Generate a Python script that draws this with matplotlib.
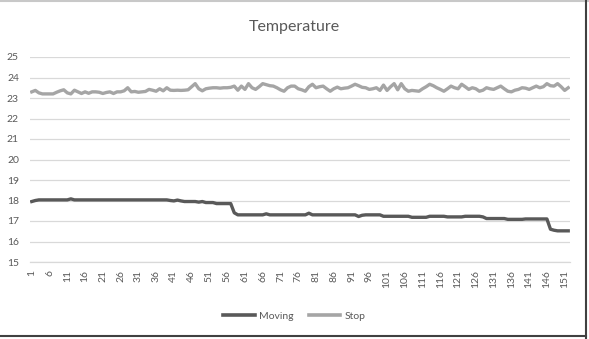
import matplotlib
matplotlib.use("Agg")
import matplotlib.pyplot as plt
from matplotlib.lines import Line2D

# ----- data -----
moving = (
    [17.95, 18.0] + [18.03] * 9 + [18.08] + [18.03] * 27
    + [18.0, 17.98, 18.02, 17.98, 17.95, 17.95, 17.95, 17.95, 17.92, 17.95,
       17.9, 17.9, 17.9, 17.85, 17.85, 17.85, 17.85, 17.85, 17.4]
    + [17.3] * 8 + [17.35] + [17.3] * 11 + [17.38] + [17.3] * 13
    + [17.22, 17.28] + [17.3] * 5 + [17.23] * 8 + [17.18] * 5 + [17.23] * 5
    + [17.2] * 5 + [17.23] * 5 + [17.2] + [17.12] * 6 + [17.08] * 5
    + [17.1] * 7 + [16.6, 16.55, 16.52, 16.52, 16.52, 16.52]
)

stop = [
    23.3, 23.37, 23.25, 23.2, 23.2, 23.2, 23.2, 23.28, 23.35, 23.4,
    23.25, 23.2, 23.38, 23.3, 23.22, 23.3, 23.23, 23.3, 23.3, 23.28,
    23.22, 23.27, 23.3, 23.22, 23.3, 23.3, 23.35, 23.5, 23.3, 23.32,
    23.28, 23.3, 23.32, 23.42, 23.38, 23.33, 23.45, 23.35, 23.5, 23.38,
    23.37, 23.38, 23.37, 23.38, 23.4, 23.55, 23.7, 23.45, 23.35, 23.45,
    23.48, 23.5, 23.5, 23.48, 23.5, 23.5, 23.52, 23.58, 23.38, 23.58,
    23.42, 23.7, 23.5, 23.42, 23.55, 23.7, 23.65, 23.6, 23.58, 23.5,
    23.4, 23.33, 23.5, 23.58, 23.58, 23.45, 23.4, 23.33, 23.55, 23.67,
    23.5, 23.55, 23.58, 23.45, 23.33, 23.45, 23.53, 23.45, 23.48, 23.5,
    23.58, 23.67, 23.6, 23.52, 23.5, 23.42, 23.45, 23.5, 23.37, 23.63,
    23.37, 23.55, 23.7, 23.4, 23.7, 23.45, 23.33, 23.37, 23.35, 23.33,
    23.45, 23.55, 23.67, 23.6, 23.5, 23.42, 23.33, 23.45, 23.58, 23.5,
    23.45, 23.67, 23.55, 23.42, 23.5, 23.45, 23.33, 23.38, 23.5, 23.45,
    23.42, 23.5, 23.58, 23.45, 23.33, 23.3, 23.38, 23.42, 23.5, 23.48,
    23.42, 23.5, 23.58, 23.5, 23.55, 23.7, 23.6, 23.58, 23.7, 23.55,
    23.37, 23.5,
]

x = list(range(1, len(stop) + 1))
x_ticks = list(range(1, len(stop) + 1, 5))
y_ticks = list(range(15, 26))

text_col = "#595959"
grid_col = "#D9D9D9"
plt.rcParams["font.family"] = ["Lato", "DejaVu Sans"]

W, H = 589, 339
fig = plt.figure(figsize=(W / 100, H / 100), dpi=100)
ax = fig.add_axes([30 / W, 1 - 262 / H, 540 / W, 205 / H])

ax.plot(x[:len(moving)], moving, color="#595959", lw=2.4, label="Moving", solid_joinstyle="round")
ax.plot(x, stop, color="#A5A5A5", lw=2.4, label="Stop", solid_joinstyle="round")

ax.set_xlim(0.5, len(stop) + 0.5)
ax.set_ylim(15, 25)
ax.set_xticks(x_ticks)
ax.set_xticklabels([str(t) for t in x_ticks], rotation=90, fontsize=7.5, color=text_col)
ax.set_yticks(y_ticks)
ax.set_yticklabels([str(t) for t in y_ticks], fontsize=7.5, color=text_col)
ax.tick_params(length=0, pad=6)
ax.tick_params(axis="y", pad=8)
ax.grid(axis="y", color=grid_col, lw=0.9)
ax.set_axisbelow(True)
for s in ["top", "right", "left"]:
    ax.spines[s].set_visible(False)
ax.spines["bottom"].set_color(grid_col)
ax.spines["bottom"].set_linewidth(0.9)

fig.text(0.5, 1 - 27 / H, "Temperature", ha="center", va="center", fontsize=11.5, color=text_col)

handles = [Line2D([], [], color="#595959", lw=2.6), Line2D([], [], color="#A5A5A5", lw=2.6)]
fig.legend(handles, ["Moving", "Stop"], loc="center", bbox_to_anchor=(0.5, 1 - 316 / H),
           ncol=2, frameon=False, fontsize=7.5, handlelength=3.0, columnspacing=1.5,
           handletextpad=0.4, labelcolor=text_col)

# chart frame
fig.add_artist(Line2D([0, 1], [1 - 1 / H, 1 - 1 / H], color="#C8C8C8", lw=1.5))
fig.add_artist(Line2D([586 / W, 586 / W], [0, 1], color="#404040", lw=1.5))
fig.add_artist(Line2D([0, 586 / W], [3 / H, 3 / H], color="#404040", lw=1.5))

fig.savefig("out.png", dpi=100)
